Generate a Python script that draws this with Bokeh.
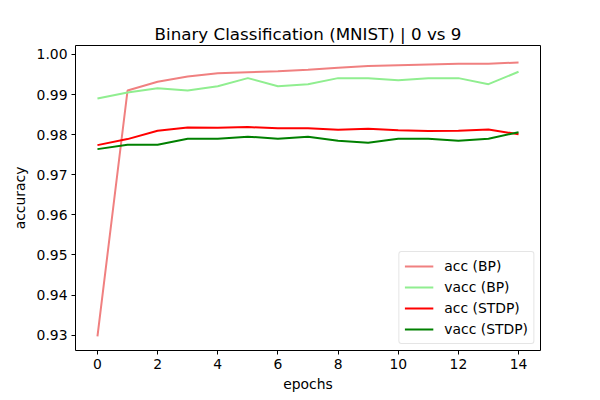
from bokeh.plotting import figure
from bokeh.models import FixedTicker, PrintfTickFormatter, Range1d, Legend, LegendItem
from bokeh.embed import file_html
from bokeh.resources import INLINE

epochs = list(range(15))
acc_bp = [0.9297, 0.9910, 0.9932, 0.9945, 0.9953, 0.9956, 0.9958, 0.9962, 0.9967,
          0.9971, 0.9973, 0.9975, 0.9977, 0.9977, 0.9980]
vacc_bp = [0.9890, 0.9905, 0.9916, 0.9910, 0.9921, 0.9941, 0.9921, 0.9926, 0.9941,
           0.9941, 0.9936, 0.9941, 0.9941, 0.9926, 0.9957]
acc_stdp = [0.9774, 0.9789, 0.9810, 0.9818, 0.9817, 0.9819, 0.9816, 0.9816, 0.9812,
            0.9815, 0.9811, 0.9809, 0.9810, 0.9813, 0.9801]
vacc_stdp = [0.9764, 0.9775, 0.9775, 0.9790, 0.9790, 0.9795, 0.9790, 0.9795, 0.9785,
             0.9780, 0.9790, 0.9790, 0.9785, 0.9790, 0.9806]
x_ticks = [0, 2, 4, 6, 8, 10, 12, 14]
y_ticks = [0.93, 0.94, 0.95, 0.96, 0.97, 0.98, 0.99, 1.00]

FONT = "DejaVu Sans"

p = figure(width=600, height=400, output_backend="svg", toolbar_location=None,
           title="Binary Classification (MNIST) | 0 vs 9",
           x_range=Range1d(-0.73, 14.73), y_range=Range1d(0.92618, 1.00224),
           min_border_left=75, min_border_right=60, min_border_top=45, min_border_bottom=50)

p.title.align = "center"
p.title.text_font = FONT
p.title.text_font_size = "16.7px"
p.title.text_font_style = "normal"
p.title.text_color = "black"
p.title.standoff = 4

p.xgrid.visible = False
p.ygrid.visible = False
p.outline_line_color = "black"
p.outline_line_width = 1
p.background_fill_color = "white"
p.border_fill_color = "white"

for ax in (p.xaxis[0], p.yaxis[0]):
    ax.axis_line_color = None
    ax.major_tick_in = 0
    ax.major_tick_out = 4
    ax.minor_tick_line_color = None
    ax.major_tick_line_color = "black"
    ax.major_label_text_font = FONT
    ax.major_label_text_font_size = "13.9px"
    ax.major_label_text_color = "black"
    ax.axis_label_text_font = FONT
    ax.axis_label_text_font_size = "13.9px"
    ax.axis_label_text_font_style = "normal"
    ax.axis_label_text_color = "black"

p.xaxis.ticker = FixedTicker(ticks=x_ticks)
p.yaxis.ticker = FixedTicker(ticks=y_ticks)
p.yaxis.formatter = PrintfTickFormatter(format="%.2f")
p.xaxis.axis_label = "epochs"
p.yaxis.axis_label = "accuracy"
p.xaxis.major_label_standoff = 4
p.xaxis.axis_label_standoff = 4
p.yaxis.major_label_standoff = 4
p.yaxis.axis_label_standoff = 6

r1 = p.line(epochs, acc_bp, line_color="#F08080", line_width=2)
r2 = p.line(epochs, vacc_bp, line_color="#90EE90", line_width=2)
r3 = p.line(epochs, acc_stdp, line_color="red", line_width=2)
r4 = p.line(epochs, vacc_stdp, line_color="green", line_width=2)

legend = Legend(items=[
    LegendItem(label="acc (BP)", renderers=[r1]),
    LegendItem(label="vacc (BP)", renderers=[r2]),
    LegendItem(label="acc (STDP)", renderers=[r3]),
    LegendItem(label="vacc (STDP)", renderers=[r4]),
], location="bottom_right")
legend.label_text_font = FONT
legend.label_text_font_size = "13.9px"
legend.label_text_color = "black"
legend.border_line_color = "#cccccc"
legend.border_radius = 3
legend.background_fill_alpha = 0.8
legend.glyph_width = 29
legend.glyph_height = 18
legend.label_height = 18
legend.label_standoff = 11
legend.spacing = 3
legend.padding = 5
legend.margin = 6
p.add_layout(legend)

open("out.html", "w").write(file_html(p, INLINE))
